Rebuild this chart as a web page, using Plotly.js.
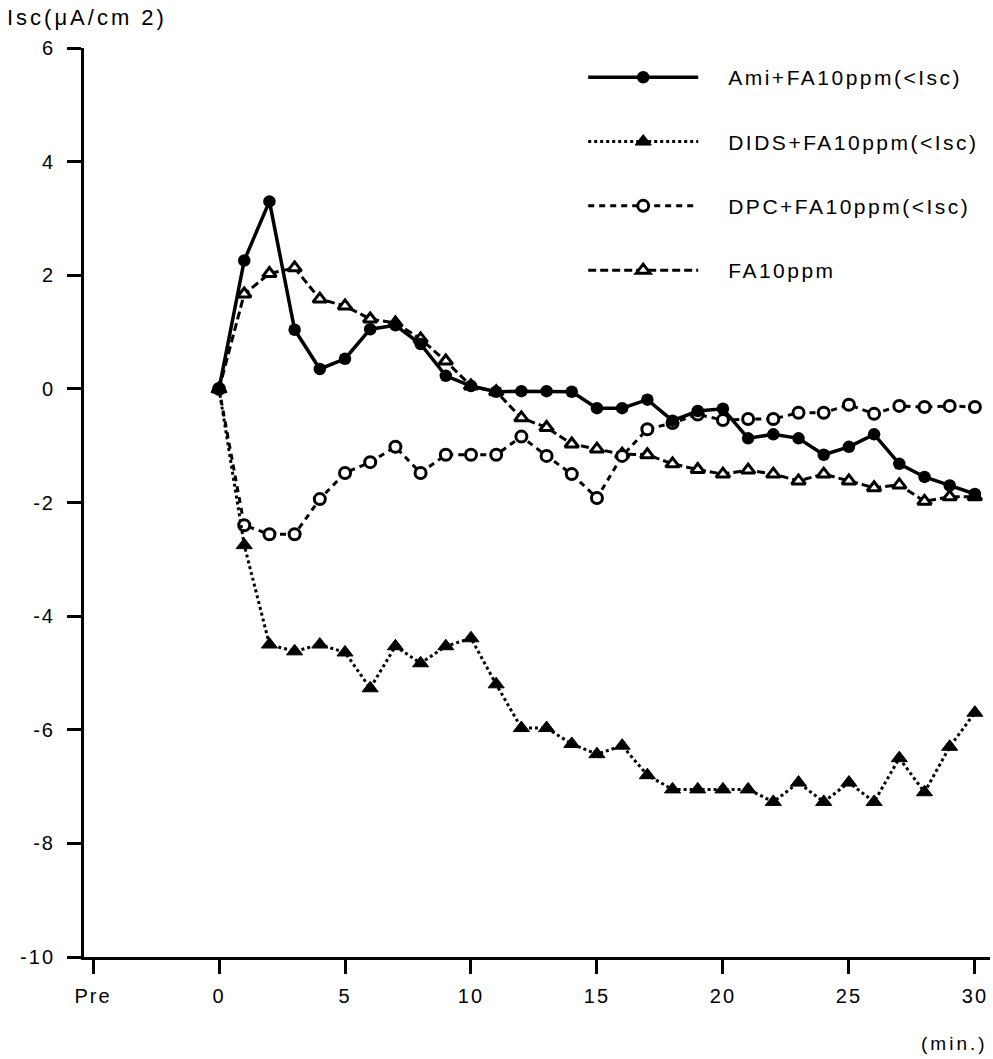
<!DOCTYPE html>
<html>
<head>
<meta charset="utf-8">
<script src="https://cdn.plot.ly/plotly-3.0.1.min.js"></script>
<style>
html,body{margin:0;padding:0;background:#fff;}
svg text{letter-spacing:2px;}
svg text.legendtext{letter-spacing:2.5px;}
svg text.annotation-text{letter-spacing:3px;}
</style>
</head>
<body>
<div id="chart" style="width:993px;height:1059px;"></div>
<script>
var minutes = [0,1,2,3,4,5,6,7,8,9,10,11,12,13,14,15,16,17,18,19,20,21,22,23,24,25,26,27,28,29,30];
var ami  = [0,2.26,3.3,1.04,0.35,0.53,1.05,1.12,0.79,0.23,0.05,-0.05,-0.04,-0.04,-0.05,-0.34,-0.34,-0.19,-0.56,-0.39,-0.35,-0.87,-0.8,-0.87,-1.16,-1.02,-0.8,-1.32,-1.55,-1.7,-1.85];
var dids = [0,-2.75,-4.5,-4.62,-4.5,-4.64,-5.27,-4.53,-4.83,-4.53,-4.39,-5.2,-5.97,-5.97,-6.25,-6.43,-6.28,-6.8,-7.05,-7.05,-7.05,-7.05,-7.27,-6.93,-7.27,-6.93,-7.27,-6.5,-7.1,-6.3,-5.7];
var dpc  = [0,-2.4,-2.56,-2.56,-1.94,-1.48,-1.29,-1.02,-1.48,-1.16,-1.16,-1.16,-0.84,-1.18,-1.5,-1.92,-1.18,-0.71,-0.6,-0.45,-0.55,-0.53,-0.53,-0.42,-0.42,-0.28,-0.44,-0.3,-0.32,-0.3,-0.32];
var fa   = [0,1.67,2.03,2.13,1.58,1.46,1.23,1.16,0.88,0.49,0.05,-0.05,-0.51,-0.68,-0.97,-1.06,-1.15,-1.16,-1.32,-1.42,-1.5,-1.43,-1.5,-1.62,-1.5,-1.62,-1.74,-1.69,-1.98,-1.9,-1.9];
var xTickVals = [-5,0,5,10,15,20,25,30];
var xTickText = ['Pre','0','5','10','15','20','25','30'];
var yTickVals = [-10,-8,-6,-4,-2,0,2,4,6];
var yTickText = ['-10','-8','-6','-4','-2','0','2','4','6'];
var seriesNames = ['Ami+FA10ppm(<Isc)','DIDS+FA10ppm(<Isc)','DPC+FA10ppm(<Isc)','FA10ppm'];

var FONT = 'Liberation Sans, Arial, sans-serif';
var PAD = '\u00a0\u00a0\u00a0';
var traces = [
  {x: minutes, y: fa, name: PAD + seriesNames[3], legendgroup:'d', legendrank:4, mode:'lines+markers',
   line:{color:'#000', width:3, dash:'8px,4px'},
   marker:{symbol:'triangle-up', size:12, color:'#fff', line:{color:'#000', width:3}}},
  {x: minutes, y: dpc, name: PAD + seriesNames[2], legendgroup:'c', legendrank:3, mode:'lines+markers',
   line:{color:'#000', width:3, dash:'6px,5px'},
   marker:{symbol:'circle', size:11, color:'#fff', line:{color:'#000', width:3}}},
  {x: minutes, y: dids, name: PAD + seriesNames[1], legendgroup:'b', legendrank:2, mode:'lines+markers',
   line:{color:'#000', width:3, dash:'3px,3px'},
   marker:{symbol:'triangle-up', size:14, color:'#000', line:{color:'#000', width:1}}},
  {x: minutes, y: ami, name: PAD + seriesNames[0], legendgroup:'a', legendrank:1, mode:'lines+markers',
   line:{color:'#000', width:3.5},
   marker:{symbol:'circle', size:12.5, color:'#000'}}
];

var layout = {
  width: 993, height: 1059,
  margin: {l: 84, r: 3, t: 48, b: 102},
  paper_bgcolor: '#fff', plot_bgcolor: '#fff',
  font: {family: FONT, size: 20, color: '#000'},
  showlegend: true,
  legend: {x: 0.551, y: 0.99, xanchor: 'left', yanchor: 'top',
           font: {family: FONT, size: 21, color: '#000'},
           itemwidth: 110, tracegroupgap: 34, traceorder: 'grouped',
           bgcolor: 'rgba(0,0,0,0)'},
  xaxis: {range: [-5.36, 30.6], tickmode: 'array', tickvals: xTickVals, ticktext: xTickText,
          showgrid: false, zeroline: false, showline: true, linecolor: '#000', linewidth: 3,
          ticks: 'outside', ticklen: 14, tickwidth: 3, tickcolor: '#000', ticklabelstandoff: 5,
          tickfont: {family: FONT, size: 20, color: '#000'}, fixedrange: true},
  yaxis: {range: [-10, 6], tickmode: 'array', tickvals: yTickVals, ticktext: yTickText,
          showgrid: false, zeroline: false, showline: true, linecolor: '#000', linewidth: 3,
          ticks: 'outside', ticklen: 14, tickwidth: 3, tickcolor: '#000', ticklabelstandoff: 8,
          tickfont: {family: FONT, size: 20, color: '#000'}, fixedrange: true},
  annotations: [
    {text: 'Isc(μA/cm 2)', xref: 'paper', yref: 'paper', x: -0.087, y: 1.034,
     xanchor: 'left', yanchor: 'middle', showarrow: false, font: {family: FONT, size: 22, color: '#000'}},
    {text: '(min.)', xref: 'paper', yref: 'paper', x: 1.0, y: -0.095,
     xanchor: 'right', yanchor: 'middle', showarrow: false, font: {family: FONT, size: 19, color: '#000'}}
  ]
};

Plotly.newPlot('chart', traces, layout, {displayModeBar: false, staticPlot: true});
</script>
</body>
</html>
